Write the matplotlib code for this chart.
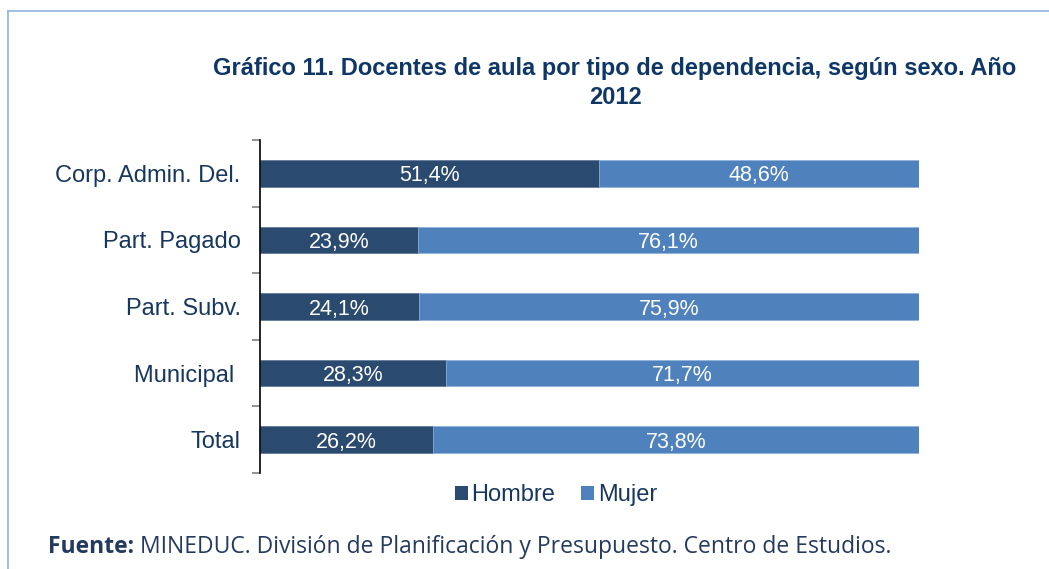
import matplotlib
matplotlib.use("Agg")
import matplotlib.pyplot as plt
from matplotlib.patches import Patch
from matplotlib.lines import Line2D

categories = ["Corp. Admin. Del.", "Part. Pagado", "Part. Subv.", "Municipal ", "Total"]
hombre = [51.4, 23.9, 24.1, 28.3, 26.2]
mujer = [48.6, 76.1, 75.9, 71.7, 73.8]
hombre_labels = ["51,4%", "23,9%", "24,1%", "28,3%", "26,2%"]
mujer_labels = ["48,6%", "76,1%", "75,9%", "71,7%", "73,8%"]

C_H = "#2B4A6F"
C_M = "#4F81BD"
NAVY = "#17375E"
TITLE = "#0F3766"

plt.rcParams['font.family'] = ['Liberation Sans', 'DejaVu Sans']

W, H = 1049, 569
fig = plt.figure(figsize=(W / 100, H / 100), dpi=100)
ax = fig.add_axes([260 / W, 1 - 473 / H, (919 - 260) / W, (473 - 140) / H])

ypos = list(range(len(categories)))
ax.barh(ypos, hombre, height=0.4, color=C_H, edgecolor="#5a7394", linewidth=0.5)
ax.barh(ypos, mujer, left=hombre, height=0.4, color=C_M, edgecolor="#8fb0d8", linewidth=0.5)

for y, h, m, hl, ml in zip(ypos, hombre, mujer, hombre_labels, mujer_labels):
    ax.text(h / 2, y, hl, ha="center", va="center_baseline", color="white", fontsize=15.5)
    ax.text(h + m / 2, y, ml, ha="center", va="center_baseline", color="white", fontsize=15.5)

ax.set_xlim(0, 100)
ax.set_ylim(len(categories) - 0.5, -0.5)
ax.set_yticks([i - 0.5 for i in range(len(categories) + 1)])
ax.set_yticklabels([])
ax.tick_params(axis="y", which="major", length=6, color="#808080", width=1.2, direction="out")
ax.set_yticks(ypos, minor=True)
ax.set_yticklabels(categories, minor=True, fontsize=17, color=NAVY)
ax.tick_params(axis="y", which="minor", length=0, pad=14)
ax.set_xticks([])
for s in ["top", "right", "bottom"]:
    ax.spines[s].set_visible(False)
ax.spines["left"].set_color("black")
ax.spines["left"].set_linewidth(1.2)

fig.text(615 / W, 1 - 68 / H, "Gráfico 11. Docentes de aula por tipo de dependencia, según sexo. Año",
         ha="center", va="center", fontsize=17, fontweight="bold", color=TITLE)
fig.text(615 / W, 1 - 98 / H, "2012", ha="center", va="center", fontsize=17,
         fontweight="bold", color=TITLE)

handles = [Patch(facecolor=C_H, label="Hombre"), Patch(facecolor=C_M, label="Mujer")]
leg = fig.legend(handles=handles, loc="center", bbox_to_anchor=(556 / W, 1 - 495 / H), ncol=2,
                 frameon=False, fontsize=17, handlelength=0.55, handleheight=0.55,
                 handletextpad=0.15, columnspacing=1.1)
for t in leg.get_texts():
    t.set_color(NAVY)

t1 = fig.text(48 / W, 1 - 553 / H, "Fuente:", ha="left", va="baseline", fontsize=16.5,
              fontweight="bold", color="#243A5E", family=["Open Sans", "DejaVu Sans"])
ax.annotate(" MINEDUC. División de Planificación y Presupuesto. Centro de Estudios.",
            xy=(1, 0), xycoords=t1, ha="left", va="bottom", fontsize=16.5,
            color="#243A5E", family=["Open Sans", "DejaVu Sans"], annotation_clip=False)

border = "#8EB4E3"
fig.add_artist(Line2D([8 / W, 1], [1 - 11 / H, 1 - 11 / H], color=border, lw=1.2,
                      transform=fig.transFigure))
fig.add_artist(Line2D([8 / W, 8 / W], [0, 1 - 11 / H], color=border, lw=1.2,
                      transform=fig.transFigure))

fig.savefig("out.png", dpi=100)
